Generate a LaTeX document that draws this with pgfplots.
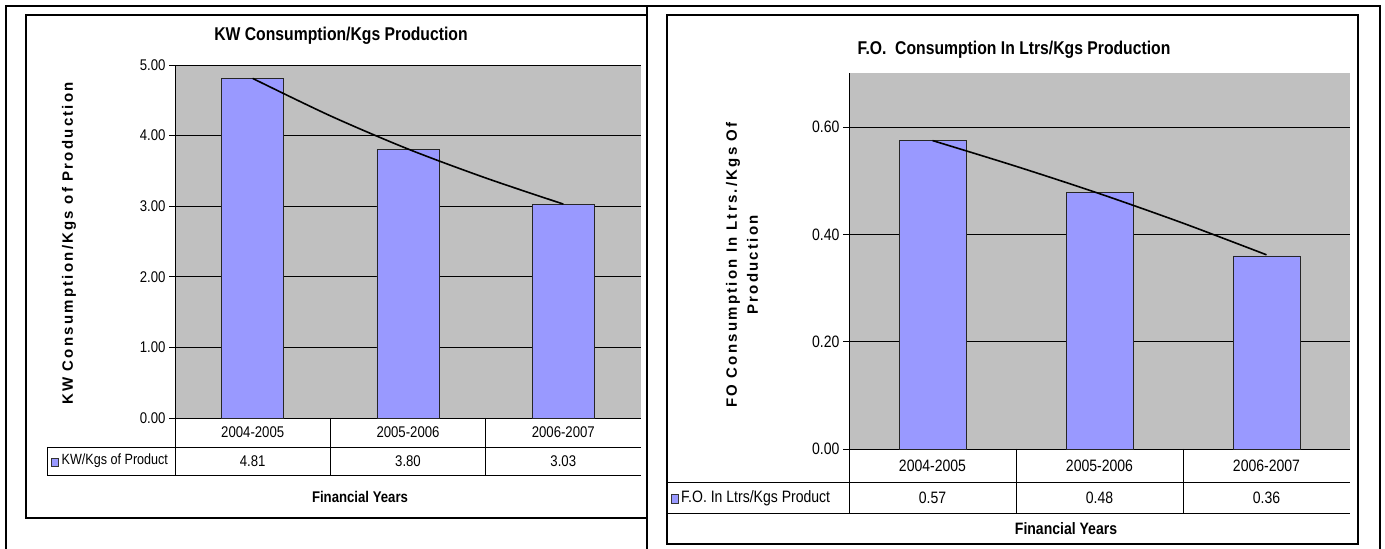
\documentclass[border=0pt]{standalone}
\usepackage{fontspec}
\setmainfont{Liberation Sans}[FakeStretch=0.85]
\newfontfamily\ylabfont{Liberation Sans}[LetterSpace=15]
\usepackage{pgfplots}
\pgfplotsset{compat=1.18}
\definecolor{plotgray}{HTML}{C0C0C0}
\definecolor{barblue}{HTML}{9999FF}
\pgfplotsset{excelbar/.style={
  scale only axis, xmin=-0.5, xmax=2.5, ymin=0,
  xtick=\empty, axis x line*=bottom, axis y line*=left,
  axis line style={-, black, line width=0.9pt},
  axis background/.style={fill=plotgray},
  ymajorgrids, major grid style={black, line width=0.7pt},
  tick align=outside, major tick length=6pt, tick style={black, line width=0.9pt},
  /pgf/number format/assume math mode=true,
  yticklabel style={/pgf/number format/fixed, /pgf/number format/fixed zerofill, /pgf/number format/precision=2},
  clip=false,
}}
\begin{document}
\begin{tikzpicture}[x=1pt,y=1pt]
\path[use as bounding box] (0,0) rectangle (1385,549);
% outer border
\draw[line width=2.5pt] (6,-5) -- (6,543) -- (1380,543) -- (1380,-5);
\draw[line width=2.5pt] (647,-5) -- (647,543);
% chart frames
\draw[line width=1.1pt] (26,31) rectangle (647,534);
\draw[line width=1.1pt] (667,5) rectangle (1358,534);

% ---------- left chart ----------
\begin{axis}[excelbar, at={(175pt,131pt)}, anchor=south west, width=466pt, height=353pt,
  ymax=5, ytick={0,1,2,3,4,5}, tick label style={font=\fontsize{15.5}{18}\selectfont}]
\addplot[ybar, bar width=0.4, fill=barblue, draw=black!85, line width=0.7pt]
  coordinates {(0,4.81) (1,3.80) (2,3.02)};
\addplot[smooth, black, line width=1.6pt]
  coordinates {(0,4.81) (0.5,4.28) (1,3.81) (1.5,3.40) (2,3.03)};
\end{axis}

\node[font=\fontsize{18.5}{22}\selectfont\bfseries, anchor=base] at (341,508) {KW Consumption/Kgs Production};
\node[rotate=90, font=\ylabfont\bfseries\fontsize{15}{18}\selectfont] at (69,305.5) {KW Consumption/Kgs of Production};
\draw[line width=0.9pt] (47,102) -- (641,102) (47,74) -- (641,74) (47,102) -- (47,74)
  (175,131) -- (175,74) (330.3,131) -- (330.3,74) (485.7,131) -- (485.7,74);
\begin{scope}[every node/.style={font=\fontsize{15.5}{18}\selectfont}]
\node at (252.7,116.5) {2004-2005};
\node at (408,116.5) {2005-2006};
\node at (563.3,116.5) {2006-2007};
\node at (252.7,88) {4.81};
\node at (408,88) {3.80};
\node at (563.3,88) {3.03};
\end{scope}
\node[anchor=west, inner sep=0pt, font=\fontsize{14.8}{18}\selectfont] at (61.5,88) {KW/Kgs of Product};
\draw[fill=barblue, draw=black!80, line width=0.7pt] (51.5,83) rectangle (58.5,91);
\node[font=\fontsize{15.5}{18}\selectfont\bfseries] at (360,52) {Financial Years};

% ---------- right chart ----------
\begin{axis}[excelbar, at={(849pt,100pt)}, anchor=south west, width=501pt, height=375.5pt,
  ymax=0.7, ytick={0,0.2,0.4,0.6}, tick label style={font=\fontsize{16.5}{19}\selectfont}]
\addplot[ybar, bar width=0.4, fill=barblue, draw=black!85, line width=0.7pt]
  coordinates {(0,0.575) (1,0.479) (2,0.36)};
\addplot[smooth, black, line width=1.6pt]
  coordinates {(0,0.575) (0.5,0.527) (1,0.476) (1.5,0.421) (2,0.362)};
\end{axis}

\node[font=\fontsize{18.5}{22}\selectfont\bfseries, anchor=base] at (1014,494) {F.O.\ \ Consumption In Ltrs/Kgs Production};
\node[rotate=90, align=center, font=\ylabfont\bfseries\fontsize{15}{21}\selectfont] at (742,284) {FO Consumption In Ltrs./Kgs Of\\Production};
\draw[line width=0.9pt] (668,66.5) -- (1350,66.5) (668,36) -- (1350,36)
  (849,100) -- (849,36) (1016,100) -- (1016,36) (1183,100) -- (1183,36);
\begin{scope}[every node/.style={font=\fontsize{16.5}{19}\selectfont}]
\node at (932.5,83) {2004-2005};
\node at (1099.5,83) {2005-2006};
\node at (1266.5,83) {2006-2007};
\node at (932.5,51) {0.57};
\node at (1099.5,51) {0.48};
\node at (1266.5,51) {0.36};
\node[anchor=west, inner sep=0pt] at (681,51) {F.O. In Ltrs/Kgs Product};
\end{scope}
\draw[fill=barblue, draw=black!80, line width=0.7pt] (671.5,46) rectangle (678.5,55);
\node[font=\fontsize{16.5}{19}\selectfont\bfseries] at (1066,20) {Financial Years};
\end{tikzpicture}
\end{document}
